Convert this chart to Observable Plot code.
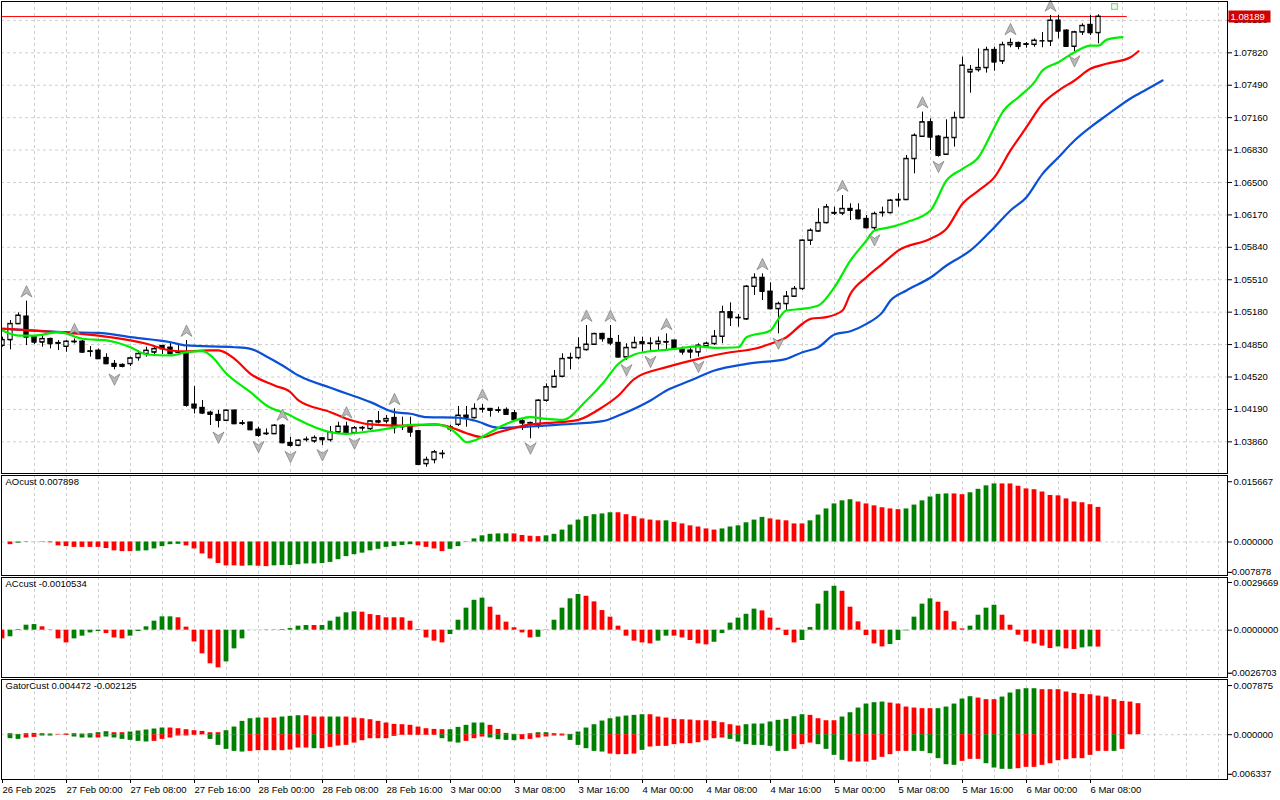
<!DOCTYPE html>
<html><head><meta charset="utf-8">
<script src="https://cdn.jsdelivr.net/npm/d3@7"></script>
<script src="https://cdn.jsdelivr.net/npm/@observablehq/plot@0.6"></script>
<style>
html,body{margin:0;padding:0;background:#fff;}
#chart{position:relative;width:1280px;height:800px;overflow:hidden;background:#fff;}
#chart svg{position:absolute;left:0;}
</style></head><body><div id="chart"></div>
<script>
// ---------- DATA ----------
const firstCandle = -1; // index of first candle (hourly bars, 26 Feb 16:00)
const opens = [
1.04840,1.04898,1.05061,1.05136,1.04925,1.04874,1.04908,1.04867,1.04830,1.04881,
1.04881,1.04782,1.04789,1.04715,1.04654,1.04644,1.04654,1.04715,1.04756,1.04772,
1.04837,1.04820,1.04775,1.04772,1.04240,1.04206,1.04158,1.04135,1.04077,1.04179,
1.04050,1.04057,1.03985,1.03941,1.03941,1.04026,1.03850,1.03823,1.03884,1.03867,
1.03897,1.03880,1.03958,1.04016,1.03951,1.04000,1.03992,1.04070,1.04070,1.04104,
1.04016,1.04016,1.03969,1.03636,1.03677,1.03738,1.03990,1.04036,1.04128,1.04104,
1.04196,1.04196,1.04179,1.04186,1.04152,1.04070,1.04050,1.04036,1.04281,1.04417,
1.04525,1.04715,1.04715,1.04797,1.04851,1.04959,1.04908,1.04868,1.04722,1.04817,
1.04875,1.04862,1.04858,1.04875,1.04892,1.04797,1.04790,1.04773,1.04834,1.04858,
1.04932,1.05180,1.05122,1.05109,1.05441,1.05530,1.05390,1.05214,1.05265,1.05340,
1.05418,1.05910,1.06004,1.06089,1.06187,1.06187,1.06232,1.06215,1.06130,1.06038,
1.06191,1.06191,1.06320,1.06324,1.06741,1.06968,1.07114,1.06968,1.06785,1.06955,
1.07158,1.07623,1.07647,1.07667,1.07850,1.07735,1.07901,1.07921,1.07905,1.07904,
1.07942,1.07938,1.08149,1.08047,1.07884,1.08030,1.08105,1.08023];
const highs = [
1.04925,1.05095,1.05173,1.05292,1.04942,1.04942,1.04915,1.04891,1.04891,1.04908,
1.04891,1.04830,1.04806,1.04756,1.04688,1.04654,1.04722,1.04789,1.04823,1.04840,
1.04840,1.04874,1.04840,1.04891,1.04423,1.04281,1.04172,1.04179,1.04185,1.04185,
1.04077,1.04060,1.04009,1.03992,1.04036,1.04036,1.03907,1.03880,1.03908,1.03921,
1.03901,1.04016,1.04060,1.04060,1.04016,1.04016,1.04077,1.04169,1.04128,1.04196,
1.04111,1.04111,1.03975,1.03704,1.03772,1.03772,1.04030,1.04220,1.04220,1.04247,
1.04240,1.04200,1.04213,1.04206,1.04179,1.04094,1.04060,1.04288,1.04450,1.04586,
1.04756,1.04762,1.04919,1.05044,1.04966,1.04966,1.05044,1.04943,1.04858,1.04926,
1.04926,1.04919,1.04926,1.04959,1.04895,1.04824,1.04824,1.04858,1.04875,1.04993,
1.05241,1.05275,1.05156,1.05451,1.05570,1.05570,1.05479,1.05282,1.05390,1.05441,
1.05916,1.06028,1.06232,1.06276,1.06249,1.06367,1.06283,1.06283,1.06164,1.06198,
1.06249,1.06327,1.06385,1.06775,1.06995,1.07216,1.07148,1.06978,1.07138,1.07216,
1.07776,1.07691,1.07860,1.07877,1.07877,1.07928,1.07962,1.07928,1.07925,1.07962,
1.08027,1.08200,1.08200,1.08054,1.08040,1.08115,1.08200,1.08207];
const lows = [
1.04823,1.04796,1.05054,1.04840,1.04851,1.04823,1.04806,1.04789,1.04772,1.04857,
1.04762,1.04722,1.04698,1.04650,1.04593,1.04613,1.04627,1.04681,1.04722,1.04749,
1.04749,1.04749,1.04756,1.04213,1.04145,1.04138,1.04026,1.04002,1.04070,1.04036,
1.04026,1.03975,1.03907,1.03924,1.03934,1.03840,1.03806,1.03810,1.03857,1.03846,
1.03823,1.03857,1.03948,1.03924,1.03941,1.03968,1.03975,1.04043,1.04043,1.03941,
1.03975,1.03907,1.03619,1.03602,1.03636,1.03687,1.03960,1.04016,1.04009,1.04094,
1.04152,1.04111,1.04152,1.04128,1.04077,1.03975,1.03891,1.03992,1.04264,1.04410,
1.04511,1.04593,1.04695,1.04783,1.04840,1.04874,1.04840,1.04715,1.04688,1.04807,
1.04773,1.04773,1.04790,1.04790,1.04797,1.04742,1.04705,1.04722,1.04824,1.04841,
1.04858,1.05034,1.05027,1.05095,1.05350,1.05299,1.05204,1.04959,1.05197,1.05333,
1.05401,1.05859,1.05994,1.06079,1.06164,1.06164,1.06113,1.06120,1.06028,1.06011,
1.06147,1.06181,1.06249,1.06317,1.06588,1.06961,1.06826,1.06758,1.06775,1.06860,
1.07148,1.07409,1.07623,1.07613,1.07633,1.07701,1.07871,1.07850,1.07867,1.07877,
1.07871,1.07884,1.07962,1.07877,1.07833,1.07996,1.07996,1.07911];
const closes = [
1.04898,1.05061,1.05146,1.04925,1.04874,1.04908,1.04857,1.04862,1.04881,1.04877,
1.04772,1.04779,1.04705,1.04654,1.04627,1.04627,1.04711,1.04756,1.04789,1.04806,
1.04806,1.04756,1.04770,1.04230,1.04203,1.04152,1.04138,1.04077,1.04179,1.04043,
1.04046,1.03982,1.03924,1.03945,1.04026,1.03850,1.03823,1.03874,1.03881,1.03901,
1.03880,1.03958,1.04016,1.03948,1.04000,1.04003,1.04070,1.04060,1.04094,1.04002,
1.04012,1.03958,1.03629,1.03677,1.03755,1.03741,1.04010,1.04128,1.04104,1.04196,
1.04192,1.04179,1.04182,1.04138,1.04084,1.04050,1.04053,1.04281,1.04417,1.04525,
1.04705,1.04712,1.04817,1.04851,1.04959,1.04908,1.04864,1.04722,1.04817,1.04868,
1.04858,1.04860,1.04881,1.04877,1.04807,1.04773,1.04773,1.04841,1.04861,1.04932,
1.05180,1.05122,1.05124,1.05441,1.05530,1.05390,1.05214,1.05265,1.05340,1.05418,
1.05910,1.06011,1.06089,1.06249,1.06191,1.06232,1.06215,1.06130,1.06038,1.06181,
1.06194,1.06317,1.06324,1.06741,1.06978,1.07114,1.06961,1.06775,1.06955,1.07158,
1.07691,1.07647,1.07667,1.07850,1.07725,1.07901,1.07921,1.07884,1.07908,1.07945,
1.07942,1.08149,1.08040,1.07884,1.08030,1.08095,1.08023,1.08189];

// Alligator lines (bar index, price)
const jawIdx = [-1,3,7,11,15,20,22,28,30,32,34,36,40,42,45,48,50,52,56,58,61,65,69,74,76,80,82,85,88,92,97,99,101,103,105,107,109,110,112,115,117,120,123,125,127,129,131,133,135,137,140,142,144];
const jawVal = [1.05011,1.04993,1.04976,1.04970,1.04925,1.04874,1.04841,1.04823,1.04807,1.04729,1.04637,1.04535,1.04410,1.04352,1.04264,1.04162,1.04146,1.04111,1.04105,1.04077,1.04003,1.04016,1.04037,1.04070,1.04128,1.04281,1.04383,1.04484,1.04586,1.04654,1.04705,1.04772,1.04823,1.04953,1.04986,1.05061,1.05180,1.05299,1.05401,1.05533,1.05655,1.05808,1.06045,1.06215,1.06350,1.06588,1.06757,1.06927,1.07063,1.07182,1.07355,1.07447,1.07538];
const teethIdx = [-1,3,7,11,15,17,20,22,25,26,28,30,33,35,36,40,42,45,48,50,53,55,57,59,61,65,70,71,74,76,78,82,86,90,93,95,97,99,100,102,104,105,107,109,111,115,117,119,121,123,125,127,129,131,133,135,137,140,141];
const teethVal = [1.05011,1.04993,1.04970,1.04942,1.04892,1.04858,1.04790,1.04780,1.04790,1.04790,1.04705,1.04553,1.04434,1.04365,1.04281,1.04162,1.04095,1.04037,1.04026,1.04026,1.04037,1.04009,1.03948,1.03907,1.03958,1.04037,1.04070,1.04084,1.04213,1.04332,1.04502,1.04620,1.04705,1.04772,1.04807,1.04858,1.04925,1.05062,1.05112,1.05129,1.05197,1.05367,1.05536,1.05672,1.05808,1.05927,1.06029,1.06283,1.06418,1.06554,1.06826,1.07063,1.07301,1.07436,1.07538,1.07657,1.07708,1.07775,1.07836];
const lipsIdx = [-1,1,3,6,9,12,15,17,20,22,24,25,27,30,32,35,36,40,42,45,47,50,53,55,56,57,58,60,62,65,67,69,72,74,76,78,80,82,84,86,88,91,92,95,96,97,99,101,103,105,107,108,110,112,115,117,119,121,123,124,126,128,129,131,133,135,136,137,139];
const lipsVal = [1.04993,1.04942,1.04942,1.04976,1.04909,1.04892,1.04823,1.04749,1.04739,1.04772,1.04783,1.04739,1.04553,1.04365,1.04230,1.04128,1.04084,1.03958,1.03942,1.03968,1.03992,1.04033,1.04037,1.03993,1.03925,1.03856,1.03874,1.03958,1.04043,1.04111,1.04094,1.04084,1.04281,1.04451,1.04655,1.04749,1.04783,1.04797,1.04817,1.04831,1.04817,1.04823,1.04925,1.04993,1.05112,1.05197,1.05214,1.05248,1.05434,1.05706,1.05910,1.06011,1.06045,1.06096,1.06215,1.06520,1.06639,1.06757,1.07063,1.07215,1.07368,1.07521,1.07640,1.07724,1.07826,1.07894,1.07894,1.07952,1.07979];

// Fractal markers (bar indexes)
const fractalUp = [2,8,22,34,42,48,59,72,75,82,94,104,114,125,130];
const fractalDown = [13,26,31,35,39,43,65,77,80,86,96,108,116,133];

// Current price line
const bidPrice = 1.08189;
const bidLineEnd = 139.6;
const markerIdx = [138];
const markerPrice = [1.08291];

// Price axis ticks
const priceTicks = [1.08150,1.07820,1.07490,1.07160,1.06830,1.06500,1.06170,1.05840,1.05510,1.05180,1.04850,1.04520,1.04190,1.03860];

// Awesome Oscillator (bars from index 0)
const aoFirst = 0;
const aoValues = [
-0.0007,-0.0003,-0.0001,0.00003,-0.0001,-0.0002,-0.0010,-0.0012,-0.0014,-0.0014,
-0.0014,-0.0014,-0.0017,-0.0023,-0.0025,-0.0025,-0.0024,-0.0023,-0.0018,-0.0012,
-0.0007,-0.0006,-0.0010,-0.0018,-0.0031,-0.0044,-0.0056,-0.0062,-0.0062,-0.0063,
-0.0062,-0.0063,-0.0064,-0.0062,-0.0061,-0.0061,-0.0059,-0.0057,-0.0057,-0.0056,
-0.0053,-0.0046,-0.0038,-0.0033,-0.0029,-0.0023,-0.0019,-0.0014,-0.0012,-0.0009,
-0.0007,-0.0010,-0.0014,-0.0018,-0.0025,-0.0019,-0.0012,0.0001,0.0008,0.0016,
0.0020,0.0021,0.0021,0.0021,0.0017,0.0015,0.0014,0.0016,0.0020,0.0031,
0.0044,0.0057,0.0066,0.0071,0.0073,0.0076,0.0076,0.0071,0.0066,0.0060,
0.0057,0.0055,0.0055,0.0051,0.0047,0.0042,0.0039,0.0034,0.0031,0.0034,
0.0039,0.0042,0.0050,0.0057,0.0064,0.0060,0.0057,0.0055,0.0047,0.0047,
0.0055,0.0070,0.0086,0.0099,0.0107,0.0110,0.0104,0.0099,0.0094,0.0089,
0.0086,0.0084,0.0086,0.0096,0.0107,0.0117,0.0124,0.0125,0.0125,0.0123,
0.0128,0.0137,0.0146,0.0151,0.0151,0.0151,0.0145,0.0138,0.0136,0.0130,
0.0121,0.0120,0.0112,0.0104,0.0102,0.0097,0.0090];
const aoColors = [
"r","g","g","g","r","r","r","r","r","r",
"r","r","r","r","r","r","g","g","g","g",
"g","g","r","r","r","r","r","r","r","r",
"g","r","r","g","g","g","g","g","g","g",
"g","g","g","g","g","g","g","g","g","g",
"g","r","r","r","r","g","g","g","g","g",
"g","g","g","r","r","r","r","g","g","g",
"g","g","g","g","g","g","r","r","r","r",
"r","r","g","r","r","r","r","r","r","g",
"g","g","g","g","g","r","r","r","r","r",
"g","g","g","g","g","g","r","r","r","r",
"r","r","g","g","g","g","g","g","r","r",
"g","g","g","g","r","r","r","r","r","r",
"r","r","r","r","r","r","r"];

// Accelerator Oscillator (bars from index -1)
const acFirst = -1;
const acValues = [
-0.00054,-0.00041,0.00004,0.00031,0.00035,0.00021,-0.00002,-0.00054,-0.00079,-0.00054,
-0.00037,-0.00017,-0.00008,-0.00021,-0.00048,-0.00054,-0.00037,-0.00008,0.00021,0.00056,
0.00083,0.00083,0.00077,0.00019,-0.00073,-0.00147,-0.00209,-0.00234,-0.00197,-0.00116,
-0.00054,0.00001,-0.00001,-0.00002,0.00002,0.00004,0.00010,0.00025,0.00029,0.00029,
0.00029,0.00056,0.00081,0.00108,0.00114,0.00112,0.00097,0.00091,0.00077,0.00077,
0.00077,0.00056,0.00004,-0.00048,-0.00068,-0.00079,-0.00027,0.00062,0.00137,0.00186,
0.00199,0.00143,0.00093,0.00050,0.00015,-0.00017,-0.00048,-0.00044,-0.00002,0.00062,
0.00137,0.00195,0.00222,0.00211,0.00176,0.00122,0.00081,0.00025,-0.00037,-0.00068,
-0.00079,-0.00085,-0.00068,-0.00037,-0.00037,-0.00048,-0.00064,-0.00085,-0.00091,-0.00075,
-0.00021,0.00044,0.00075,0.00099,0.00131,0.00120,0.00075,0.00012,-0.00033,-0.00079,
-0.00064,0.00017,0.00162,0.00242,0.00273,0.00242,0.00143,0.00052,-0.00033,-0.00085,
-0.00104,-0.00089,-0.00064,-0.00004,0.00081,0.00162,0.00195,0.00174,0.00118,0.00052,
0.00008,0.00025,0.00093,0.00137,0.00155,0.00093,0.00031,-0.00031,-0.00073,-0.00085,
-0.00099,-0.00114,-0.00104,-0.00116,-0.00120,-0.00110,-0.00104,-0.00105];
const acColors = [
"r","g","g","g","g","r","r","r","r","g",
"g","g","g","r","r","r","g","g","g","g",
"g","g","r","r","r","r","r","r","g","g",
"g","g","r","r","g","g","g","g","g","r",
"g","g","g","g","g","r","r","r","r","r",
"r","r","r","r","r","r","g","g","g","g",
"g","r","r","r","r","r","r","g","g","g",
"g","g","g","r","r","r","r","r","r","r",
"r","r","g","g","r","r","r","r","r","g",
"g","g","g","g","g","r","r","r","r","r",
"g","g","g","g","g","r","r","r","r","r",
"r","g","g","g","g","g","g","r","r","r",
"r","g","g","g","g","r","r","r","r","r",
"r","r","g","r","r","g","g","r"];

// Gator oscillator (bars from index 0)
const gatorFirst = 0;
const gatorUp = [
0.00016,0.00005,0.00016,0.00021,0.00016,0.00011,0.00005,0.00011,0.00016,0.00011,
0.00016,0.00032,0.00048,0.00032,0.00032,0.00043,0.00059,0.00075,0.00091,0.00107,
0.00107,0.00096,0.00080,0.00064,0.00053,0.00032,0.00032,0.00064,0.00123,0.00214,
0.00256,0.00267,0.00267,0.00267,0.00283,0.00294,0.00304,0.00304,0.00283,0.00283,
0.00283,0.00283,0.00283,0.00267,0.00256,0.00240,0.00214,0.00187,0.00166,0.00160,
0.00150,0.00123,0.00096,0.00085,0.00080,0.00080,0.00117,0.00150,0.00187,0.00187,
0.00150,0.00085,0.00021,0.00005,0.00000,0.00016,0.00032,0.00032,0.00016,0.00011,
0.00005,0.00043,0.00107,0.00160,0.00219,0.00256,0.00283,0.00299,0.00310,0.00320,
0.00320,0.00283,0.00267,0.00246,0.00240,0.00235,0.00224,0.00224,0.00214,0.00192,
0.00160,0.00139,0.00160,0.00171,0.00171,0.00203,0.00230,0.00246,0.00288,0.00320,
0.00310,0.00256,0.00224,0.00224,0.00283,0.00352,0.00427,0.00491,0.00513,0.00523,
0.00507,0.00491,0.00443,0.00427,0.00417,0.00417,0.00417,0.00443,0.00491,0.00571,
0.00609,0.00587,0.00561,0.00561,0.00603,0.00668,0.00721,0.00737,0.00737,0.00721,
0.00721,0.00721,0.00684,0.00662,0.00646,0.00641,0.00619,0.00603,0.00561,0.00534,
0.00523,0.00497];
const gatorUpColors = [
"r","r","g","g","r","r","r","g","g","r",
"g","g","g","r","r","g","g","g","g","g",
"r","r","r","r","r","r","r","g","g","g",
"g","g","r","r","g","g","g","r","r","r",
"g","g","r","r","r","r","r","r","r","r",
"r","r","r","r","r","g","g","g","g","g",
"r","r","r","r","r","g","g","g","r","r",
"r","g","g","g","g","g","g","g","g","g",
"r","r","r","r","r","r","r","r","r","r",
"r","r","g","g","g","g","g","g","g","g",
"r","r","r","r","g","g","g","g","g","g",
"r","r","r","r","r","r","g","g","g","g",
"g","r","r","r","g","g","g","g","g","r",
"r","r","r","r","r","r","r","r","r","r",
"r","r"];
const gatorDown = [
-0.00064,-0.00075,-0.00053,-0.00043,-0.00021,-0.00021,-0.00005,-0.00011,-0.00037,-0.00053,
-0.00053,-0.00053,-0.00037,-0.00053,-0.00075,-0.00091,-0.00107,-0.00117,-0.00107,-0.00075,
-0.00053,-0.00021,-0.00021,-0.00011,-0.00003,-0.00075,-0.00171,-0.00235,-0.00267,-0.00278,
-0.00267,-0.00256,-0.00256,-0.00256,-0.00256,-0.00246,-0.00214,-0.00214,-0.00224,-0.00224,
-0.00203,-0.00182,-0.00171,-0.00134,-0.00096,-0.00064,-0.00064,-0.00064,-0.00027,-0.00011,
-0.00011,-0.00011,-0.00011,-0.00011,-0.00064,-0.00117,-0.00134,-0.00107,-0.00064,-0.00037,
-0.00053,-0.00080,-0.00091,-0.00096,-0.00080,-0.00075,-0.00053,-0.00037,-0.00021,-0.00021,
-0.00091,-0.00171,-0.00224,-0.00267,-0.00278,-0.00310,-0.00320,-0.00320,-0.00310,-0.00251,
-0.00198,-0.00187,-0.00187,-0.00160,-0.00144,-0.00144,-0.00128,-0.00096,-0.00064,-0.00053,
-0.00075,-0.00117,-0.00160,-0.00171,-0.00171,-0.00187,-0.00267,-0.00267,-0.00235,-0.00160,
-0.00134,-0.00160,-0.00235,-0.00331,-0.00411,-0.00438,-0.00438,-0.00438,-0.00411,-0.00363,
-0.00320,-0.00267,-0.00267,-0.00267,-0.00267,-0.00304,-0.00384,-0.00481,-0.00491,-0.00427,
-0.00395,-0.00395,-0.00465,-0.00534,-0.00555,-0.00555,-0.00545,-0.00523,-0.00523,-0.00491,
-0.00465,-0.00417,-0.00400,-0.00384,-0.00384,-0.00331,-0.00267,-0.00267,-0.00267,-0.00235];
const gatorDownColors = [
"g","g","r","r","g","g","r","r","g","g",
"g","r","g","g","g","g","g","g","r","r",
"r","r","r","r","r","g","g","g","g","g",
"r","r","r","r","r","r","r","r","g","r",
"r","r","r","r","r","r","r","r","r","r",
"r","r","r","r","g","g","g","r","r","r",
"g","g","g","g","r","r","r","r","r","r",
"g","g","g","g","g","r","r","r","r","g",
"r","r","r","r","r","r","r","r","r","r",
"g","g","g","g","g","g","g","g","r","r",
"r","g","g","g","g","r","r","r","r","r",
"r","r","r","g","g","g","g","g","g","r",
"r","r","g","g","g","g","r","r","r","r",
"r","r","r","r","r","r","r","r","g","r"];

// Time axis
const timeIdx = [-1,7,15,23,31,39,47,55,63,71,79,87,95,103,111,119,127,135];
const timeLabels = ["26 Feb 2025","27 Feb 00:00","27 Feb 08:00","27 Feb 16:00","28 Feb 00:00","28 Feb 08:00","28 Feb 16:00","3 Mar 00:00","3 Mar 08:00","3 Mar 16:00","4 Mar 00:00","4 Mar 08:00","4 Mar 16:00","5 Mar 00:00","5 Mar 08:00","5 Mar 16:00","6 Mar 00:00","6 Mar 08:00"];
const gridIdx = d3.range(3, 153, 4);

// Indicator panel labels / ticks
const aoTitle = "AOcust 0.007898";
const acTitle = "ACcust -0.0010534";
const gatorTitle = "GatorCust 0.004472 -0.002125";
const aoTicks = [0.015667, 0, -0.007878];
const aoTickLabels = ["0.015667","0.000000","-0.007878"];
const acTicks = [0.0029669, 0, -0.0026703];
const acTickLabels = ["0.0029669","0.0000000","-0.0026703"];
const gatorTicks = [0.007875, 0, -0.006337];
const gatorTickLabels = ["0.007875","0.000000","-0.006337"];

// ---------- RENDER ----------
const FONT = "'Liberation Sans',Arial,sans-serif";
const GREEN = "#008000", RED = "#ff0000", GRID = "#cfcfcf";
const xDomain = [-1.125, 152.125];
const style = {fontFamily: FONT, fontSize: "9.5px", background: "white", color: "black"};
const chart = document.getElementById("chart");
function place(svg, top) { svg.style.top = top + "px"; chart.append(svg); }

const candles = opens.map((o, i) => ({k: firstCandle + i, o, h: highs[i], l: lows[i], c: closes[i]}));
const byK = new Map(candles.map(d => [d.k, d]));
const line = (idx, val) => idx.map((k, i) => ({k, v: val[i]}));
const hist = (first, vals, cols) => vals.map((v, i) => ({k: first + i, v, c: cols[i]}));

const arrowUp = {draw(ctx, size) { const r = Math.sqrt(size / Math.PI);
  ctx.moveTo(0, -r); ctx.lineTo(r * 0.85, r * 0.75); ctx.lineTo(0, r * 0.2); ctx.lineTo(-r * 0.85, r * 0.75); ctx.closePath(); }};
const arrowDown = {draw(ctx, size) { const r = Math.sqrt(size / Math.PI);
  ctx.moveTo(0, r); ctx.lineTo(r * 0.85, -r * 0.75); ctx.lineTo(0, -r * 0.2); ctx.lineTo(-r * 0.85, -r * 0.75); ctx.closePath(); }};
const labelBox = {draw(ctx) { ctx.rect(1, -6, 42, 12); }};

const vGrid = Plot.ruleX(gridIdx, {stroke: GRID, strokeDasharray: "3,3"});
function rightAxis(ticks, labels) {
  const fmt = labels ? (d => labels[ticks.indexOf(d)]) : (d => d.toFixed(5));
  const neg = ticks.filter(t => t < 0);
  const marks = [Plot.axisY({anchor: "right", ticks, tickSize: 4, tickPadding: 2, label: null,
    tickFormat: d => d < 0 ? "" : fmt(d)})];
  if (neg.length) marks.push(Plot.axisY({anchor: "right", ticks: neg, tickSize: 0, tickPadding: 1, label: null,
    tickFormat: fmt}));
  return marks;
}

// Main price panel
const main = Plot.plot({
  width: 1280, height: 474, marginLeft: 1, marginRight: 53, marginTop: 1, marginBottom: 1,
  style,
  x: {domain: xDomain, axis: null},
  y: {domain: [1.035377, 1.083422]},
  marks: [
    Plot.ruleY(priceTicks, {stroke: GRID, strokeDasharray: "3,3"}),
    vGrid,
    Plot.ruleY([{y: bidPrice, x1: xDomain[0], x2: bidLineEnd}], {y: "y", x1: "x1", x2: "x2", stroke: "#ff0000"}),
    Plot.ruleX(candles, {x: "k", y1: "l", y2: "h", stroke: "black", clip: true}),
    Plot.rect(candles, {x1: d => d.k - 0.27, x2: d => d.k + 0.27, y1: "o", y2: "c",
      fill: d => d.c >= d.o ? "white" : "black", stroke: "black", strokeWidth: 1, clip: true}),
    Plot.ruleY(candles, {y: "c", x1: d => d.k - 0.3, x2: d => d.k + 0.3, stroke: "black", clip: true}),
    Plot.ruleY(candles, {y: "o", x1: d => d.k - 0.3, x2: d => d.k + 0.3, stroke: "black", clip: true}),
    Plot.line(line(jawIdx, jawVal), {x: "k", y: "v", stroke: "#0a50d6", strokeWidth: 2.2, curve: "monotone-x"}),
    Plot.line(line(teethIdx, teethVal), {x: "k", y: "v", stroke: "#ff0000", strokeWidth: 2.2, curve: "monotone-x"}),
    Plot.line(line(lipsIdx, lipsVal), {x: "k", y: "v", stroke: "#00ee00", strokeWidth: 2.2, curve: "monotone-x"}),
    Plot.dot(fractalUp.map(k => byK.get(k)), {x: "k", y: "h", symbol: arrowUp, r: 6.5, dy: -9,
      fill: "#b8b8b8", stroke: "#7d7d7d", strokeWidth: 0.7}),
    Plot.dot(fractalDown.map(k => byK.get(k)), {x: "k", y: "l", symbol: arrowDown, r: 6.5, dy: 9,
      fill: "#b8b8b8", stroke: "#7d7d7d", strokeWidth: 0.7}),
    Plot.dot(markerIdx.map((k, i) => ({k, v: markerPrice[i]})), {x: "k", y: "v", symbol: "square", r: 3.3,
      stroke: "#86dd86", fill: "#effaef", strokeWidth: 1.2}),
    ...rightAxis(priceTicks),
    Plot.frame({stroke: "black"}),
    Plot.dot([bidPrice], {y: d => d, frameAnchor: "right", symbol: labelBox, r: 1, fill: "#d20000", stroke: "none"}),
    Plot.text([bidPrice], {y: d => d, frameAnchor: "right", dx: 3, textAnchor: "start", fill: "white",
      text: d => d.toFixed(5)})
  ]
});
place(main, 0);

function histPanel({top, height, marginBottom = 1, domain, data, title, ticks, labels, extra = []}) {
  const p = Plot.plot({
    width: 1280, height, marginLeft: 1, marginRight: 53, marginTop: 1, marginBottom,
    style,
    x: {domain: xDomain, axis: null},
    y: {domain},
    marks: [
      Plot.ruleY([0], {stroke: GRID, strokeDasharray: "3,3"}),
      vGrid,
      ...data.map(ds => Plot.rect(ds, {x1: d => d.k - 0.3, x2: d => d.k + 0.3, y1: d => 0, y2: "v",
        fill: d => d.c === "g" ? GREEN : RED, clip: true})),
      ...rightAxis(ticks, labels),
      ...extra,
      Plot.frame({stroke: "black"}),
      Plot.text([title], {frameAnchor: "top-left", dx: 4, dy: 3, lineAnchor: "top", textAnchor: "start",
        text: d => d, fill: "black"})
    ]
  });
  place(p, top);
}

histPanel({top: 474, height: 102, domain: [-0.00871, 0.01729],
  data: [hist(aoFirst, aoValues, aoColors)], title: aoTitle, ticks: aoTicks, labels: aoTickLabels});
histPanel({top: 576, height: 102, domain: [-0.002940, 0.003275],
  data: [hist(acFirst, acValues, acColors)], title: acTitle, ticks: acTicks, labels: acTickLabels});
histPanel({top: 678, height: 122, marginBottom: 21, domain: [-0.007178, 0.008845],
  data: [hist(gatorFirst, gatorUp, gatorUpColors), hist(gatorFirst, gatorDown, gatorDownColors)],
  title: gatorTitle, ticks: gatorTicks, labels: gatorTickLabels,
  extra: [Plot.axisX({anchor: "bottom", ticks: timeIdx, tickSize: 4, tickPadding: 3, textAnchor: "start",
    label: null, tickFormat: d => timeLabels[timeIdx.indexOf(d)]})]});
</script></body></html>
